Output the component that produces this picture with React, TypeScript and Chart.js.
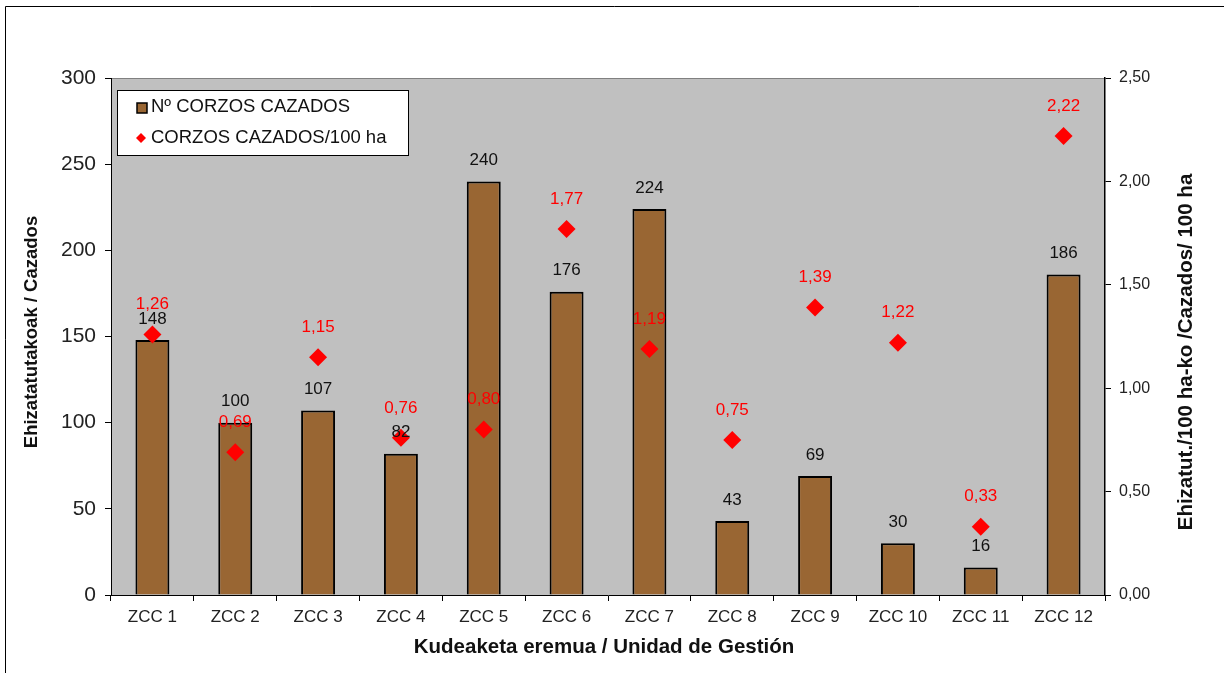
import React, { useEffect, useRef } from "react";
import { Chart, registerables } from "chart.js";

Chart.register(...registerables);

const categories = ["ZCC 1", "ZCC 2", "ZCC 3", "ZCC 4", "ZCC 5", "ZCC 6", "ZCC 7", "ZCC 8", "ZCC 9", "ZCC 10", "ZCC 11", "ZCC 12"];
const cazados = [148, 100, 107, 82, 240, 176, 224, 43, 69, 30, 16, 186];
const por100ha = [1.26, 0.69, 1.15, 0.76, 0.8, 1.77, 1.19, 0.75, 1.39, 1.22, 0.33, 2.22];
const leftTicks = [0, 50, 100, 150, 200, 250, 300];
const rightTicks = [0, 0.5, 1, 1.5, 2, 2.5];

const FONT = "'Liberation Sans', Arial, sans-serif";
const fmt = (v: number) => v.toFixed(2).replace(".", ",");

export default function App() {
  const ref = useRef<HTMLCanvasElement | null>(null);
  useEffect(() => {
    document.body.style.margin = "0";
    const canvas = ref.current!;
    const deco = {
      id: "deco",
      beforeDraw(chart: any) {
        const { ctx, chartArea: a } = chart;
        ctx.save();
        ctx.fillStyle = "#fff";
        ctx.fillRect(0, 0, chart.width, chart.height);
        ctx.strokeStyle = "#000";
        ctx.lineWidth = 1;
        ctx.beginPath();
        ctx.moveTo(5.5, chart.height);
        ctx.lineTo(5.5, 6.5);
        ctx.lineTo(chart.width, 6.5);
        ctx.stroke();
        ctx.fillStyle = "#c0c0c0";
        ctx.fillRect(a.left, a.top, a.right - a.left, a.bottom - a.top);
        ctx.strokeStyle = "#808080";
        ctx.beginPath();
        ctx.moveTo(a.left, a.top + 0.5);
        ctx.lineTo(a.right, a.top + 0.5);
        ctx.stroke();
        ctx.restore();
      },
      afterDraw(chart: any) {
        const { ctx } = chart;
        ctx.save();
        // bar labels
        ctx.font = `17px ${FONT}`;
        ctx.textAlign = "center";
        ctx.textBaseline = "middle";
        ctx.fillStyle = "#111";
        chart.getDatasetMeta(0).data.forEach((el: any, i: number) => {
          ctx.fillText(String(cazados[i]), el.x, el.y - 21);
        });
        ctx.fillStyle = "#ff0000";
        chart.getDatasetMeta(1).data.forEach((el: any, i: number) => {
          ctx.fillText(fmt(por100ha[i]), el.x, el.y - 30);
        });
        // legend
        ctx.fillStyle = "#fff";
        ctx.fillRect(117, 90, 291, 65);
        ctx.strokeStyle = "#000";
        ctx.lineWidth = 1;
        ctx.strokeRect(117.5, 90.5, 291, 65);
        ctx.fillStyle = "#996633";
        ctx.fillRect(137, 103, 10, 10);
        ctx.lineWidth = 1.5;
        ctx.strokeRect(137, 103, 10, 10);
        ctx.fillStyle = "#ff0000";
        ctx.beginPath();
        ctx.moveTo(141, 133);
        ctx.lineTo(146, 138);
        ctx.lineTo(141, 143);
        ctx.lineTo(136, 138);
        ctx.closePath();
        ctx.fill();
        ctx.fillStyle = "#111";
        ctx.textAlign = "left";
        ctx.font = `18.5px ${FONT}`;
        ctx.fillText("Nº CORZOS CAZADOS", 151, 107);
        ctx.fillText("CORZOS CAZADOS/100 ha", 151, 138);
        // axis titles
        ctx.textAlign = "center";
        ctx.font = `bold 20.5px ${FONT}`;
        ctx.fillText("Kudeaketa eremua / Unidad de Gestión", 604, 647);
        ctx.font = `bold 18.5px ${FONT}`;
        ctx.save();
        ctx.translate(32, 332);
        ctx.rotate(-Math.PI / 2);
        ctx.fillText("Ehizatatutakoak / Cazados", 0, 0);
        ctx.restore();
        ctx.font = `bold 20.5px ${FONT}`;
        ctx.save();
        ctx.translate(1186, 352);
        ctx.rotate(-Math.PI / 2);
        ctx.fillText("Ehizatut./100 ha-ko /Cazados/ 100 ha", 0, 0);
        ctx.restore();
        ctx.restore();
      },
    };
    const chart = new Chart(canvas, {
      type: "bar",
      data: {
        labels: categories,
        datasets: [
          {
            type: "bar",
            label: "Nº CORZOS CAZADOS",
            data: cazados,
            backgroundColor: "#996633",
            borderColor: "#000",
            borderWidth: 2,
            categoryPercentage: 1,
            barPercentage: 0.41,
            yAxisID: "y",
            order: 1,
          },
          {
            type: "line",
            label: "CORZOS CAZADOS/100 ha",
            data: por100ha,
            showLine: false,
            pointStyle: "rectRot",
            pointRadius: 9,
            backgroundColor: "#ff0000",
            borderColor: "#ff0000",
            borderWidth: 0,
            yAxisID: "y1",
            order: 0,
          },
        ],
      },
      options: {
        responsive: false,
        animation: false,
        layout: { padding: { top: 78, left: 0, right: 0, bottom: 0 } },
        plugins: { legend: { display: false }, tooltip: { enabled: false } },
        scales: {
          x: {
            offset: true,
            grid: { offset: true, drawOnChartArea: false, tickLength: 6, tickColor: "#000" },
            border: { display: true, color: "#000", width: 1 },
            ticks: { color: "#222", font: { size: 17, family: FONT }, padding: 6, maxRotation: 0 },
            afterFit(s: any) { s.height = 78; },
          },
          y: {
            position: "left",
            min: 0,
            max: 300,
            afterBuildTicks(s: any) { s.ticks = leftTicks.map((v) => ({ value: v })); },
            grid: { drawOnChartArea: false, tickLength: 6, tickColor: "#000" },
            border: { display: true, color: "#000", width: 1 },
            ticks: { color: "#222", font: { size: 21, family: FONT }, padding: 9 },
            afterFit(s: any) { s.width = 111; },
          },
          y1: {
            position: "right",
            min: 0,
            max: 2.5,
            afterBuildTicks(s: any) { s.ticks = rightTicks.map((v) => ({ value: v })); },
            grid: { drawOnChartArea: false, tickLength: 6, tickColor: "#000" },
            border: { display: true, color: "#000", width: 1.5 },
            ticks: { color: "#222", font: { size: 16, family: FONT }, padding: 8, callback: (v: any) => fmt(Number(v)) },
            afterFit(s: any) { s.width = 119; },
          },
        },
      },
      plugins: [deco],
    });
    return () => chart.destroy();
  }, []);
  return <canvas ref={ref} width={1224} height={673} style={{ display: "block" }} />;
}
